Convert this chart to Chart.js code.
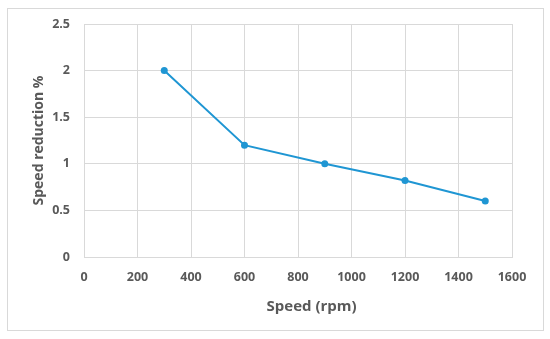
<!DOCTYPE html>
<html>
<head>
<meta charset="utf-8">
<script src="https://cdn.jsdelivr.net/npm/chart.js@4/dist/chart.umd.min.js"></script>
<style>
  html, body { margin: 0; padding: 0; background: #fff; }
  #wrap { width: 550px; height: 339px; position: relative; }
</style>
</head>
<body>
<div id="wrap"><canvas id="chart" width="550" height="339"></canvas></div>
<script>
// values
const speedRpm = [300, 600, 900, 1200, 1500];
const speedReduction = [2.0, 1.2, 1.0, 0.82, 0.6];
const xTicks = [0, 200, 400, 600, 800, 1000, 1200, 1400, 1600];
const yTicks = [0, 0.5, 1, 1.5, 2, 2.5];

const GRID = '#d9d9d9';
const TEXT = '#595959';
const LINE = '#1f96d3';

// light grey frame around the whole chart, like the Excel chart area
const outerFrame = {
  id: 'outerFrame',
  beforeDraw(chart) {
    const c = chart.ctx;
    c.save();
    c.strokeStyle = GRID;
    c.lineWidth = 1;
    c.strokeRect(7.5, 8.5, 536, 322);
    c.restore();
  },
};

const tickFont = { family: 'Open Sans', size: 12.5, weight: 'bold' };

new Chart(document.getElementById('chart'), {
  type: 'scatter',
  data: {
    datasets: [{
      data: speedRpm.map((x, i) => ({ x, y: speedReduction[i] })),
      showLine: true,
      borderColor: LINE,
      backgroundColor: LINE,
      borderWidth: 2,
      pointRadius: 3.5,
      pointHoverRadius: 3.5,
      pointBorderWidth: 0,
    }],
  },
  options: {
    responsive: false,
    animation: false,
    events: [],
    layout: { padding: { left: 7, top: 24, right: 38, bottom: 9 } },
    plugins: { legend: { display: false }, tooltip: { enabled: false } },
    scales: {
      x: {
        type: 'linear',
        min: xTicks[0], max: xTicks[xTicks.length - 1],
        afterBuildTicks: s => { s.ticks = xTicks.map(v => ({ value: v })); },
        afterFit: s => { s.height = 73; },
        grid: { color: GRID, drawTicks: false },
        border: { color: GRID },
        ticks: { color: TEXT, padding: 13, font: tickFont, callback: v => String(v) },
        title: {
          display: true,
          // title sits a bit right of the plot centre in the original
          text: '\u00a0\u00a0\u00a0\u00a0\u00a0\u00a0\u00a0Speed (rpm)',
          color: TEXT,
          font: { family: 'Open Sans', size: 15, weight: 'bold' },
          padding: { top: 0, bottom: 14 },
        },
      },
      y: {
        type: 'linear',
        min: yTicks[0], max: yTicks[yTicks.length - 1],
        afterBuildTicks: s => { s.ticks = yTicks.map(v => ({ value: v })); },
        afterFit: s => { s.width = 77; },
        grid: { color: GRID, drawTicks: false },
        border: { color: GRID },
        ticks: { color: TEXT, padding: 14, font: tickFont, callback: v => String(v) },
        title: {
          display: true, text: 'Speed reduction %', color: TEXT,
          font: { family: 'Open Sans', size: 14, weight: 'bold' },
          padding: { top: 24, bottom: 0 },
        },
      },
    },
  },
  plugins: [outerFrame],
});
</script>
</body>
</html>
